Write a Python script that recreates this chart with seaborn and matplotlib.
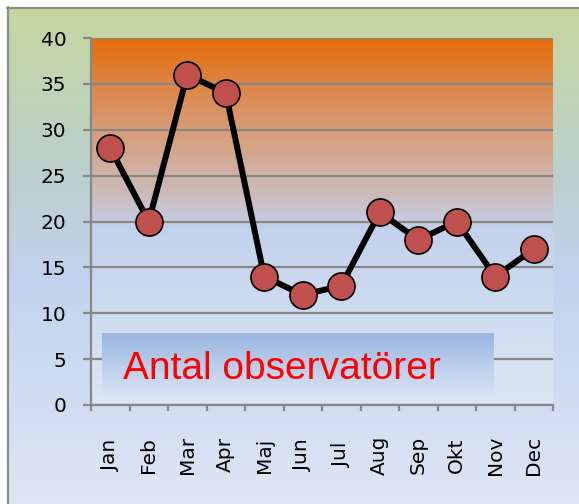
import numpy as np
import pandas as pd
import seaborn as sns
import matplotlib.pyplot as plt
from matplotlib.colors import LinearSegmentedColormap

# data
months = ["Jan", "Feb", "Mar", "Apr", "Maj", "Jun", "Jul", "Aug", "Sep", "Okt", "Nov", "Dec"]
observers = [28, 20, 36, 34, 14, 12, 13, 21, 18, 20, 14, 17]
y_ticks = [0, 5, 10, 15, 20, 25, 30, 35, 40]
box_text = "Antal observatörer"

df = pd.DataFrame({"month": months, "value": observers})

sns.set_theme(style="white")
plt.rcParams["font.family"] = ["DejaVu Sans"]

W, H = 579, 504
fig = plt.figure(figsize=(W / 100, H / 100), dpi=100)
fig.patch.set_facecolor("white")

# outer background panel (green -> blue gradient)
bg = fig.add_axes([0, 0, 1, 1])
bg.set_xlim(0, W)
bg.set_ylim(H, 0)
bg.axis("off")
outer_cmap = LinearSegmentedColormap.from_list(
    "outer", [(0.0, "#c5d79e"), (0.35, "#bccfcf"), (0.55, "#c3d2ee"), (1.0, "#dee6f5")])
grad = np.linspace(0, 1, 256).reshape(-1, 1)
bg.imshow(grad, cmap=outer_cmap, aspect="auto", extent=[7, W, H, 7], zorder=0)
bg.plot([7, W], [7.5, 7.5], color="#8c8c8c", lw=1.6, zorder=1)
bg.plot([7.5, 7.5], [7, H], color="#8c8c8c", lw=1.6, zorder=1)

# plot area
ax = fig.add_axes([91 / W, 1 - 405 / H, (553 - 91) / W, (405 - 38) / H])
ax.set_facecolor("none")
plot_cmap = LinearSegmentedColormap.from_list(
    "plot", [(0.0, "#e36c0a"), (0.14, "#dc884c"), (0.28, "#d5a283"),
             (0.42, "#cbbab8"), (0.52, "#c3d1ec"), (1.0, "#dce6f4")])
ax.imshow(grad, cmap=plot_cmap, aspect="auto", extent=[-0.5, 11.5, 0, 40], zorder=0)

ax.set_axisbelow(True)
ax.grid(axis="y", color="#878787", lw=1.6)
ax.grid(axis="x", visible=False)

# text box with gradient
box_cmap = LinearSegmentedColormap.from_list("box", ["#9ab6e2", "#dde6f4"])
ax.imshow(grad, cmap=box_cmap, aspect="auto", extent=[-0.21, 9.97, 0.55, 7.85], zorder=1)
ax.text(0.33, 3.95, box_text, color="#ff0000", fontsize=28,
        family=["Liberation Sans", "DejaVu Sans"], va="center", ha="left", zorder=2)

sns.lineplot(data=df, x="month", y="value", sort=False, ax=ax, color="black",
             lw=4.3, marker="o", markersize=19.5, markerfacecolor="#c0504d",
             markeredgecolor="black", markeredgewidth=1.2, zorder=3)

ax.set_xlim(-0.5, 11.5)
ax.set_ylim(0, 40)
ax.set_xlabel("")
ax.set_ylabel("")

for s in ["top", "right"]:
    ax.spines[s].set_visible(False)
for s in ["left", "bottom"]:
    ax.spines[s].set_color("#878787")
    ax.spines[s].set_linewidth(1.6)

ax.set_yticks(y_ticks)
ax.tick_params(axis="y", length=5.8, width=1.6, color="#878787", direction="out",
               pad=12, labelsize=14.5, labelcolor="black", left=True)

ax.set_xticks(range(len(months)))
ax.set_xticklabels(months, rotation=90, va="center")
ax.set_xticks(np.arange(-0.5, 12, 1), minor=True)
ax.tick_params(axis="x", which="major", length=0, pad=36, labelsize=14.5, labelcolor="black")
ax.tick_params(axis="x", which="minor", length=4.5, width=1.6, color="#878787",
               direction="out", bottom=True)

fig.savefig("out.png", dpi=100)
